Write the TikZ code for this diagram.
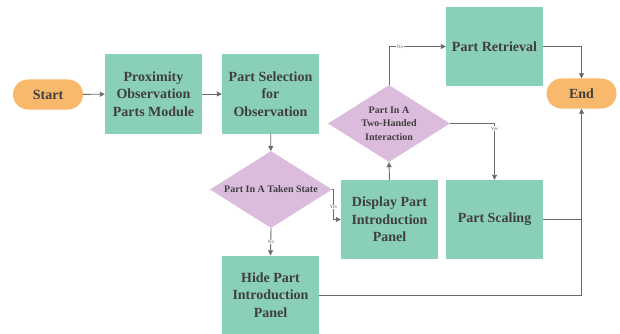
\documentclass[tikz,border=0pt]{standalone}
\usepackage{fontspec}
\setmainfont{Liberation Serif}
\usetikzlibrary{shapes.geometric,arrows.meta}
\definecolor{boxgreen}{HTML}{8ACFB8}
\definecolor{termorange}{HTML}{F9B96C}
\definecolor{decpurple}{HTML}{DBBCDD}
\definecolor{txtgray}{HTML}{3F3F3F}
\definecolor{linegray}{HTML}{6A6A6A}
\tikzset{
  procbox/.style={rectangle, fill=boxgreen, draw=none, minimum width=97pt,
    minimum height=79pt, inner sep=2pt, align=center, text=txtgray,
    font=\fontsize{14}{17.7}\selectfont\bfseries},
  termbox/.style={rectangle, rounded corners=15pt, fill=termorange, draw=none,
    minimum width=70pt, minimum height=30pt, text=txtgray,
    font=\fontsize{14}{17}\selectfont\bfseries},
  decbox/.style={diamond, fill=decpurple, draw=none, aspect=1.58, inner sep=0pt,
    minimum width=122pt, minimum height=77pt, align=center, text=txtgray,
    font=\fontsize{10}{13.3}\selectfont\bfseries},
  conn/.style={draw=linegray, line width=0.9pt,
    -{Triangle[width=5pt,length=5pt]}},
  plainconn/.style={draw=linegray, line width=0.9pt},
  branchlbl/.style={fill=white, inner sep=0.6pt, text=linegray,
    font=\fontsize{5}{5}\selectfont}
}
\begin{document}
\begin{tikzpicture}[x=1pt,y=1pt]
\useasboundingbox (0,0) rectangle (620,-334);

% nodes
\node[termbox] (start) at (48,-94.5) {Start};
\node[procbox] (prox) at (153.5,-94) {Proximity\\Observation\\Parts Module};
\node[procbox] (sel) at (270.5,-94) {Part Selection\\for\\Observation};
\node[decbox] (taken) at (271,-189.5) {Part In A Taken State};
\node[procbox] (hide) at (270.5,-295) {Hide Part\\Introduction\\Panel};
\node[procbox] (disp) at (389.5,-219.5) {Display Part\\Introduction\\Panel};
\node[decbox] (twohand) at (389,-123.5) {Part In A\\Two-Handed\\Interaction};
\node[procbox] (retr) at (494.5,-46.5) {Part Retrieval};
\node[procbox] (scale) at (494.5,-219.5) {Part Scaling};
\node[termbox] (end) at (581.5,-93.5) {End};

% connectors
\draw[conn] (start) -- (prox);
\draw[conn] (prox) -- (sel);
\draw[conn] (sel) -- (taken);
\coordinate (yesbend) at (333.5,-189.5);
\draw[conn] (taken.east) -- (yesbend) |- (disp.west);
\node[branchlbl] at (333.5,-207) {Yes};
\draw[conn] (taken.south) -- (hide.north);
\node[branchlbl] at (271,-242) {No};
\draw[conn] (hide.east) -| (end.south);
\draw[plainconn] (scale.east) -- (scale.east -| end.south);
\draw[conn] (disp.north) -- (twohand.south);
\draw[conn] (twohand.north) |- (retr.west);
\node[branchlbl] at (400,-46.5) {No};
\draw[conn] (retr.east) -| (end.north);
\draw[conn] (twohand.east) -| (scale.north);
\node[branchlbl] at (494.5,-128.5) {Yes};
\end{tikzpicture}
\end{document}
